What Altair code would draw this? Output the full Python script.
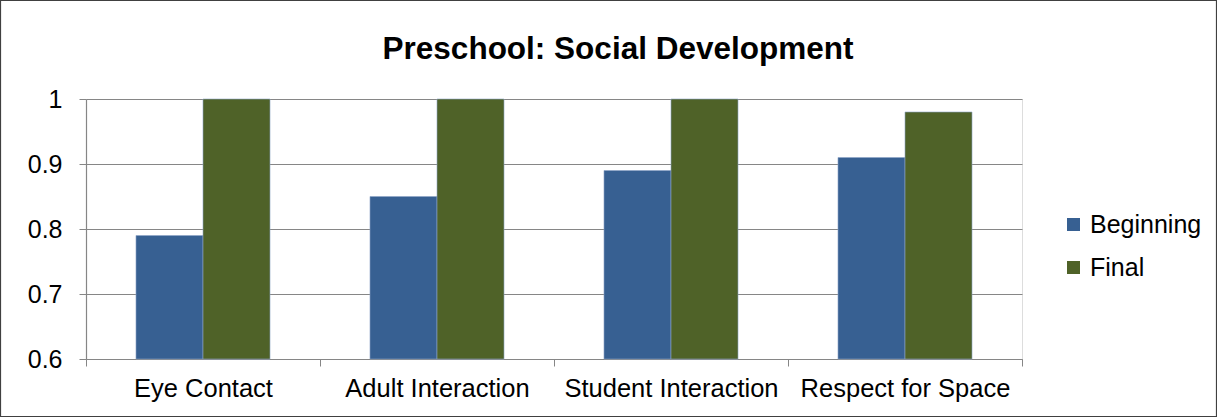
import altair as alt
import pandas as pd

categories = ["Eye Contact", "Adult Interaction", "Student Interaction", "Respect for Space"]
beginning = [0.79, 0.85, 0.89, 0.91]
final = [1.0, 1.0, 1.0, 0.98]
series = ["Beginning", "Final"]
colors = ["#376092", "#4F6228"]
title_text = ["Preschool: Social Development"]

rows = []
for c, b, f in zip(categories, beginning, final):
    rows.append({"Category": c, "Series": "Beginning", "Value": b})
    rows.append({"Category": c, "Series": "Final", "Value": f})
df = pd.DataFrame(rows)

W, H = 936, 260
FONT = "Liberation Sans"

bars = alt.Chart(df).mark_bar(stroke="#8EA5C8", strokeWidth=0.6).encode(
    x=alt.X("Category:N", sort=categories, title=None,
            scale=alt.Scale(paddingInner=0, paddingOuter=0),
            axis=alt.Axis(labelAngle=0, labelFontSize=25.5, labelColor="#000000",
                          labelFont=FONT, labelPadding=10, tickBand="extent",
                          tickSize=7, tickColor="#868686", domainColor="#868686",
                          domainWidth=1.2, grid=False, labelOverlap=False,
                          labelLimit=400)),
    xOffset=alt.XOffset("Series:N", sort=series,
                        scale=alt.Scale(paddingInner=0, paddingOuter=0.746)),
    y=alt.Y("Value:Q", title=None,
            scale=alt.Scale(domain=[0.6, 1.0], clamp=True),
            axis=alt.Axis(values=[0.6, 0.7, 0.8, 0.9, 1.0], format="~g",
                          labelFontSize=25, labelColor="#000000", labelFont=FONT,
                          labelPadding=17, tickSize=7, tickColor="#868686",
                          domainColor="#868686", domainWidth=1.2,
                          gridColor="#868686", gridWidth=1.2)),
    color=alt.Color("Series:N", sort=series,
                    scale=alt.Scale(domain=series, range=colors),
                    legend=alt.Legend(title=None, orient="none", legendX=975, legendY=113,
                                      symbolType="square", symbolSize=169,
                                      symbolStrokeWidth=0, labelFontSize=25,
                                      labelFont=FONT, labelColor="#000000",
                                      rowPadding=17, labelOffset=4, labelLimit=300)),
)

title = alt.Chart(pd.DataFrame({"t": title_text})).mark_text(
    font=FONT, fontSize=31.5, fontWeight="bold", color="#000000",
    align="center", baseline="alphabetic"
).encode(text="t:N", x=alt.value(532), y=alt.value(-40))

border = alt.Chart(pd.DataFrame({"a": [0]})).mark_rect(
    fill=None, stroke="#404040", strokeWidth=1.2
).encode(
    x=alt.value(-85.5), x2=alt.value(W + 194.5),
    y=alt.value(-98.5), y2=alt.value(H + 57.5),
)

chart = alt.layer(bars, title, border).properties(
    width=W, height=H,
    autosize=alt.AutoSizeParams(type="none"),
    padding={"left": 86, "top": 99, "right": 195, "bottom": 58},
).configure_view(stroke=None).configure(background="white")

chart.save("out.html", embed_options={"renderer": "svg", "actions": False})
